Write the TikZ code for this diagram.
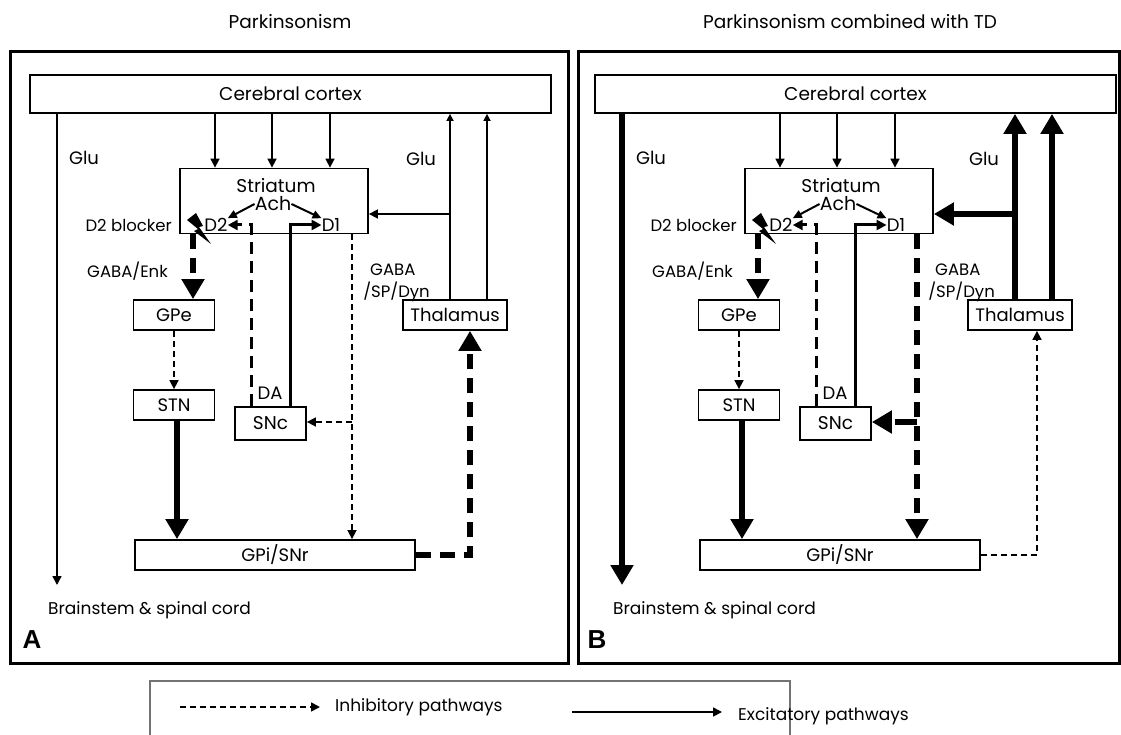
\documentclass[tikz,border=0pt]{standalone}
\usepackage{fontspec}
\setmainfont{Poppins}
\newfontfamily\labfont{Liberation Sans}
\usetikzlibrary{arrows.meta}
\newcommand{\fsz}[1]{\fontsize{#1pt}{#1pt}\selectfont}
\begin{document}
\begin{tikzpicture}[x=1pt,y=-1pt,
  font=\fsz{18},
  box/.style={draw,line width=1.8pt,inner sep=0pt},
  lbl/.style={inner sep=0pt},
  big/.style={font=\fsz{18.5}},
  mid/.style={font=\fsz{17}},
  sml/.style={font=\fsz{16.5}},
  frame/.style={line width=3pt},
  exA/.style={line width=1.6pt,-{Triangle[length=9pt,width=9pt]}},
  exS/.style={line width=1.6pt,-{Triangle[length=7pt,width=7pt]}},
  inT/.style={line width=1.6pt,dash pattern=on 6pt off 4pt,-{Triangle[length=9pt,width=9pt]}},
  exM/.style={line width=3pt,-{Triangle[length=10pt,width=10pt]}},
  inM/.style={line width=3pt,dash pattern=on 12pt off 7pt,-{Triangle[length=10pt,width=10pt]}},
  achar/.style={line width=2pt,-{Triangle[length=9pt,width=8pt]}},
  exK/.style={line width=6pt,-{Triangle[length=20pt,width=22pt]}},
  inK/.style={line width=6pt,dash pattern=on 15pt off 9pt,-{Triangle[length=20pt,width=22pt]}},
  inKs/.style={line width=6pt,dash pattern=on 22pt off 9pt,-{Triangle[length=20pt,width=22pt]}},
  letter/.style={inner sep=0pt,font=\labfont\bfseries\fsz{26}}
]
\useasboundingbox (0,0) rectangle (1121,735);

% titles
\node[lbl,big] (titA) at (290,22) {Parkinsonism};
\node[lbl,big] (titB) at (850,22) {Parkinsonism combined with TD};

% frames
\draw[frame] (10,52) rectangle (568,663);
\draw[frame] (578,52) rectangle (1119.5,663);

% ================= Panel A =================
\node[box,big,minimum width=521pt,minimum height=38pt] (ctxA) at (290.5,94) {Cerebral cortex};
\node[box,minimum width=188pt,minimum height=65pt] (strA) at (274,201) {};
\node[lbl,big] (strtA) at (276,186) {Striatum};
\node[lbl,font=\fsz{19}] (achA) at (273,204) {Ach};
\node[lbl] (d2A) at (216,225) {D2};
\node[lbl] (d1A) at (331,225) {D1};
\node[box,minimum width=81pt,minimum height=30pt] (gpeA) at (174,315) {GPe};
\node[box,minimum width=81pt,minimum height=30pt] (stnA) at (174,405) {STN};
\node[box,big,minimum width=71pt,minimum height=33pt] (sncA) at (270.5,423.5) {SNc};
\node[box,minimum width=280pt,minimum height=30pt] (gpiA) at (275,555) {GPi/SNr};
\node[box,minimum width=104pt,minimum height=30pt] (thA) at (455,315) {Thalamus};
\node[lbl] (gluLA) at (84,158) {Glu};
\node[lbl] (gluRA) at (421,159) {Glu};
\node[lbl,sml,anchor=east] (blkA) at (172,225) {D2 blocker};
\node[lbl,sml,anchor=east] (enkA) at (168,271) {GABA/Enk};
\node[lbl,anchor=west,sml] (gabA) at (370,270) {GABA};
\node[lbl,anchor=east,sml] (spA) at (430,292) {/SP/Dyn};
\node[lbl] (daA) at (270,393) {DA};
\node[lbl,anchor=west,mid] (bsA) at (48,610) {Brainstem \& spinal cord};
\node[letter] (letA) at (32,640) {A};

\coordinate (cA1) at (215,0);
\coordinate (cA2) at (272,0);
\coordinate (cA3) at (330,0);
\coordinate (gA) at (57,585);
\coordinate (tA1) at (450,0);
\coordinate (tA2) at (487,0);
\coordinate (iA) at (450,214);
\coordinate (dA1) at (251,0);
\coordinate (dA2) at (290,0);
\coordinate (eA) at (193,0);
\coordinate (sA) at (177,0);
\coordinate (pA) at (352,0);
\coordinate (bA) at (352,422);
\coordinate (hA) at (470,0);

\draw[exA] (cA1 |- ctxA.south) -- (cA1 |- strA.north);
\draw[exA] (cA2 |- ctxA.south) -- (cA2 |- strA.north);
\draw[exA] (cA3 |- ctxA.south) -- (cA3 |- strA.north);
\draw[exA] (gA |- ctxA.south) -- (gA);
\draw[exS] (tA1 |- thA.north) -- (tA1 |- ctxA.south);
\draw[exS] (tA2 |- thA.north) -- (tA2 |- ctxA.south);
\draw[exA] (iA) -- (iA -| strA.east);
\draw[inM] (dA1 |- sncA.north) |- (d2A.east);
\draw[exM] (dA2 |- sncA.north) |- (d1A.west);
\draw[achar] (achA.west) -- (d2A.north east);
\draw[achar] (achA.east) -- (d1A.north west);
\draw[inK] (eA |- strA.south) -- (eA |- gpeA.north);
\draw[inT] (gpeA.south) -- (stnA.north);
\draw[exK] (sA |- stnA.south) -- (sA |- gpiA.north);
\draw[inT] (pA |- strA.south) -- (pA |- gpiA.north);
\draw[inT] (bA) -- (bA -| sncA.east);
\draw[inK] (gpiA.east) -| (hA |- thA.south);
\fill (187,220) -- (196,213) -- (203,226) -- (199,227) -- (211,244) -- (194,231) -- (198,229) -- cycle;

% ================= Panel B =================
\begin{scope}[xshift=565pt]
\node[box,big,minimum width=521pt,minimum height=38pt] (ctxB) at (290.5,94) {Cerebral cortex};
\node[box,minimum width=188pt,minimum height=65pt] (strB) at (274,201) {};
\node[lbl,big] (strtB) at (276,186) {Striatum};
\node[lbl,font=\fsz{19}] (achB) at (273,204) {Ach};
\node[lbl] (d2B) at (216,225) {D2};
\node[lbl] (d1B) at (331,225) {D1};
\node[box,minimum width=81pt,minimum height=30pt] (gpeB) at (174,315) {GPe};
\node[box,minimum width=81pt,minimum height=30pt] (stnB) at (174,405) {STN};
\node[box,big,minimum width=71pt,minimum height=33pt] (sncB) at (270.5,423.5) {SNc};
\node[box,minimum width=280pt,minimum height=30pt] (gpiB) at (275,555) {GPi/SNr};
\node[box,minimum width=104pt,minimum height=30pt] (thB) at (455,315) {Thalamus};
\node[lbl] (gluLB) at (86,158) {Glu};
\node[lbl] (gluRB) at (419,159) {Glu};
\node[lbl,sml,anchor=east] (blkB) at (172,225) {D2 blocker};
\node[lbl,sml,anchor=east] (enkB) at (168,271) {GABA/Enk};
\node[lbl,anchor=west,sml] (gabB) at (370,270) {GABA};
\node[lbl,anchor=east,sml] (spB) at (430,292) {/SP/Dyn};
\node[lbl] (daB) at (270,393) {DA};
\node[lbl,anchor=west,mid] (bsB) at (48,610) {Brainstem \& spinal cord};
\node[letter] (letB) at (32,640) {B};

\coordinate (cB1) at (215,0);
\coordinate (cB2) at (272,0);
\coordinate (cB3) at (330,0);
\coordinate (gB) at (57,585);
\coordinate (tB1) at (450,0);
\coordinate (tB2) at (487,0);
\coordinate (iB) at (450,214);
\coordinate (dB1) at (251,0);
\coordinate (dB2) at (290,0);
\coordinate (eB) at (193,0);
\coordinate (sB) at (177,0);
\coordinate (pB) at (352,0);
\coordinate (bB) at (352,422);
\coordinate (hB) at (472,0);

\draw[exA] (cB1 |- ctxB.south) -- (cB1 |- strB.north);
\draw[exA] (cB2 |- ctxB.south) -- (cB2 |- strB.north);
\draw[exA] (cB3 |- ctxB.south) -- (cB3 |- strB.north);
\draw[exK] (gB |- ctxB.south) -- (gB);
\draw[exK] (tB1 |- thB.north) -- (tB1 |- ctxB.south);
\draw[exK] (tB2 |- thB.north) -- (tB2 |- ctxB.south);
\draw[exK] (iB) -- (iB -| strB.east);
\draw[inM] (dB1 |- sncB.north) |- (d2B.east);
\draw[exM] (dB2 |- sncB.north) |- (d1B.west);
\draw[achar] (achB.west) -- (d2B.north east);
\draw[achar] (achB.east) -- (d1B.north west);
\draw[inK] (eB |- strB.south) -- (eB |- gpeB.north);
\draw[inT] (gpeB.south) -- (stnB.north);
\draw[exK] (sB |- stnB.south) -- (sB |- gpiB.north);
\draw[inK] (pB |- strB.south) -- (pB |- gpiB.north);
\draw[inKs] (bB) -- (bB -| sncB.east);
\draw[inT] (gpiB.east) -| (hB |- thB.south);
\fill (187,220) -- (196,213) -- (203,226) -- (199,227) -- (211,244) -- (194,231) -- (198,229) -- cycle;
\end{scope}

% ================= Legend =================
\draw[line width=1.2pt,draw=black!55] (150,681) rectangle (790,745);
\node[lbl,anchor=west,mid] (inhT) at (335,707) {Inhibitory pathways};
\node[lbl,anchor=west,mid] (excT) at (738,716) {Excitatory pathways};
\coordinate (l1) at (180,707);
\coordinate (l1e) at (320,707);
\coordinate (l2) at (572,712);
\coordinate (l2e) at (722,712);
\draw[inT] (l1) -- (l1e);
\draw[exA] (l2) -- (l2e);
\end{tikzpicture}
\end{document}
